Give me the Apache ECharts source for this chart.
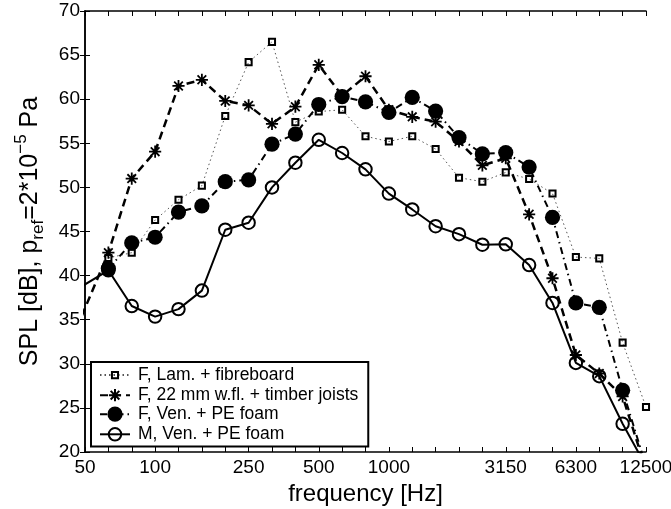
<!DOCTYPE html>
<html>
<head>
<meta charset="utf-8">
<script src="https://cdn.jsdelivr.net/npm/echarts@6/dist/echarts.min.js"></script>
<style>
  html, body { margin: 0; padding: 0; background: #fff; }
  #chart { width: 671px; height: 509px; }
</style>
</head>
<body>
<div id="chart"></div>
<script>
// One-third octave band centre frequencies [Hz]; the axis runs from the 50 Hz band to 12500 Hz.
const bands = ['40', '50', '63', '80', '100', '125', '160', '200', '250', '315', '400', '500',
  '630', '800', '1000', '1250', '1600', '2000', '2500', '3150', '4000', '5000', '6300',
  '8000', '10000', '12500'];
const tickLabels = ['50', '100', '250', '500', '1000', '3150', '6300', '12500'];
const yTicks = [20, 25, 30, 35, 40, 45, 50, 55, 60, 65, 70];

const seriesNames = [
  'F, Lam. + fibreboard',
  'F, 22 mm w.fl. + timber joists',
  'F, Ven. + PE foam',
  'M, Ven. + PE foam'
];

// Sound pressure level per band [dB]; null = no value in that band
const lamFibreboard = [null, null, 42.0, 42.6, 46.3, 48.6, 50.2, 58.1, 64.2, 66.5, 57.4, 58.6,
  58.8, 55.8, 55.2, 55.8, 54.35, 51.1, 50.65, 51.7, 50.95, 49.3, 42.1, 41.95, 32.4, 25.1];
const woodFloorJoists = [30.0, null, 42.6, 51.0, 54.05, 61.5, 62.2, 59.8, 59.3, 57.2, 59.15, 63.9,
  60.4, 62.6, 58.8, 58.0, 57.45, 55.2, 52.5, 53.3, 46.95, 39.7, 31.0, 28.9, 26.3, 18.0];
const veneerFoamF = [null, null, 40.8, 43.7, 44.35, 47.2, 47.9, 50.65, 50.85, 54.9, 56.05, 59.4,
  60.3, 59.7, 58.5, 60.2, 58.65, 55.65, 53.8, 53.95, 52.3, 46.6, 36.9, 36.4, 27.0, 18.4];
const veneerFoamM = [37.4, null, 40.6, 36.55, 35.35, 36.2, 38.3, 45.2, 46.0, 50.0, 52.8, 55.4,
  53.9, 52.05, 49.3, 47.5, 45.6, 44.7, 43.5, 43.55, 41.2, 36.9, 30.1, 28.6, 23.2, 18.4];

const FONT = '"Liberation Sans", Arial, Helvetica, sans-serif';
const firstBand = bands.indexOf('50');
const lastPos = bands.length - 1 - firstBand;

// x position = band number counted from 50 Hz (equal spacing per third octave)
function toPoints(values) {
  const pts = [];
  values.forEach((v, k) => { if (v !== null) pts.push([k - firstBand, v]); });
  return pts;
}
function bandLabel(pos) {
  const name = bands[Math.round(pos) + firstBand];
  return tickLabels.indexOf(name) >= 0 ? name : '';
}

// Marker outlines; the outer move-to points pad each shape inside a common box
const SQUARE = 'path://M-1 -1M1 1M-0.4 -0.4L0.4 -0.4L0.4 0.4L-0.4 0.4Z';
const STAR = 'path://M-1 -1M1 1M0 -0.8L0 0.8M-0.8 0L0.8 0M-0.57 -0.57L0.57 0.57M-0.57 0.57L0.57 -0.57';
const RING = 'path://M-1 -1M1 1M0.82 0A0.82 0.82 0 1 1 -0.82 0A0.82 0.82 0 1 1 0.82 0Z';
const MARK = 15.2;

const axisLine = { show: true, lineStyle: { color: '#000', width: 1.5 } };
const tickIn = { show: true, inside: true, length: 5, lineStyle: { color: '#000', width: 1 } };

const chart = echarts.init(document.getElementById('chart'), null, { renderer: 'canvas' });
chart.setOption({
  animation: false,
  backgroundColor: '#fff',
  grid: { left: 85, right: 25, top: 11, bottom: 57, containLabel: false, outerBoundsMode: 'none' },
  xAxis: [
    {
      type: 'value', position: 'bottom', min: 0, max: lastPos, interval: 1,
      axisLine, axisTick: tickIn, splitLine: { show: false },
      axisLabel: { show: true, margin: 6, fontSize: 19, color: '#000', fontFamily: FONT,
        showMinLabel: true, showMaxLabel: true, formatter: bandLabel },
      name: 'frequency [Hz]', nameLocation: 'middle', nameGap: 28,
      nameTextStyle: { fontSize: 24, color: '#000', fontFamily: FONT }
    },
    {
      type: 'value', position: 'top', min: 0, max: lastPos, interval: 1,
      axisLine, axisTick: tickIn, axisLabel: { show: false }, splitLine: { show: false }
    }
  ],
  yAxis: [
    {
      type: 'value', position: 'left', min: yTicks[0], max: yTicks[yTicks.length - 1], interval: 5,
      axisLine, axisTick: tickIn, splitLine: { show: false },
      axisLabel: { margin: 5, fontSize: 19, color: '#000', fontFamily: FONT },
      name: '{a|SPL [dB], p}{sub|ref}{a|=2*10}{sup|\u22125}{a| Pa}',
      nameLocation: 'middle', nameGap: 38,
      nameTextStyle: {
        color: '#000', fontFamily: FONT,
        rich: {
          a: { fontSize: 25, lineHeight: 34, fontFamily: FONT, color: '#000' },
          sub: { fontSize: 17, lineHeight: 17, verticalAlign: 'bottom', fontFamily: FONT, color: '#000' },
          sup: { fontSize: 17, lineHeight: 17, verticalAlign: 'top', fontFamily: FONT, color: '#000' }
        }
      }
    },
    {
      type: 'value', position: 'right', min: yTicks[0], max: yTicks[yTicks.length - 1], interval: 5,
      axisLine, axisTick: tickIn, axisLabel: { show: false }, splitLine: { show: false }
    }
  ],
  legend: {
    orient: 'vertical', left: 91, top: 362,
    itemWidth: 30, itemHeight: 19, itemGap: 1,
    padding: [3, 10, 2, 8],
    backgroundColor: '#fff', borderColor: '#000', borderWidth: 2, borderRadius: 0,
    selectedMode: false,
    textStyle: { fontSize: 17.5, color: '#000', fontFamily: FONT, padding: [0, 0, 0, 3] },
    data: seriesNames
  },
  series: [
    {
      name: seriesNames[0], type: 'line', data: toPoints(lamFibreboard),
      symbol: SQUARE, symbolSize: MARK, symbolKeepAspect: true,
      itemStyle: { color: 'none', borderColor: '#000', borderWidth: 2 },
      lineStyle: { color: '#555', width: 1, type: [1.5, 3] },
      emphasis: { disabled: true }
    },
    {
      name: seriesNames[1], type: 'line', data: toPoints(woodFloorJoists),
      symbol: STAR, symbolSize: MARK, symbolKeepAspect: true,
      itemStyle: { color: '#000', borderColor: '#000', borderWidth: 1.8 },
      lineStyle: { color: '#000', width: 2.5, type: [8, 5] },
      emphasis: { disabled: true }
    },
    {
      name: seriesNames[2], type: 'line', data: toPoints(veneerFoamF),
      symbol: 'circle', symbolSize: MARK,
      itemStyle: { color: '#000', borderWidth: 0 },
      lineStyle: { color: '#000', width: 2, type: [7, 4, 1.5, 4] },
      emphasis: { disabled: true }
    },
    {
      name: seriesNames[3], type: 'line', data: toPoints(veneerFoamM),
      symbol: RING, symbolSize: MARK, symbolKeepAspect: true,
      itemStyle: { color: 'none', borderColor: '#000', borderWidth: 2 },
      lineStyle: { color: '#000', width: 2, type: 'solid' },
      emphasis: { disabled: true }
    }
  ]
});
</script>
</body>
</html>
